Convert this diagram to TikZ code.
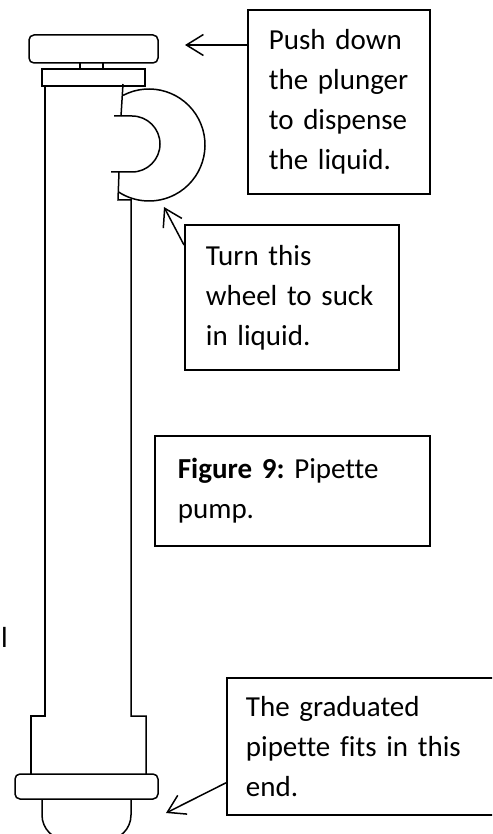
\documentclass[tikz,border=0pt]{standalone}
\usepackage{fontspec}
\setmainfont[Ligatures=NoCommon,WordSpace=0.8]{Carlito}
\usetikzlibrary{arrows.meta}
\usetikzlibrary{positioning}
\frenchspacing

\begin{document}
\begin{tikzpicture}[x=1pt,y=1pt,
  pumpline/.style={draw=black,line width=1.5pt},
  labelbox/.style={draw=black,line width=1.8pt,align=left,anchor=north west,
    font=\fontsize{29}{40}\selectfont,inner xsep=21pt,inner ysep=0pt},
  callout/.style={line width=1.5pt,-{Straight Barb[length=17pt,width=21pt,line width=1.5pt]}}]
\useasboundingbox (0,0) rectangle (492,-834);
\clip (0,0) rectangle (492,-834);

% plunger and collar
\draw[pumpline,rounded corners=5pt] (29,-35) rectangle (158,-63);
\draw[pumpline] (80,-63) -- (80,-69) (103,-63) -- (103,-69);
\draw[pumpline] (42,-69) rectangle (145,-86);

% barrel with the stepped lower end
\draw[pumpline] (45,-86) -- (45,-716) -- (31,-716) -- (31,-774);
\draw[pumpline] (119,-172) -- (118,-200) -- (131,-200) -- (131,-716) -- (146,-716) -- (146,-774);

% wheel
\draw[pumpline] (123,-84) -- (121,-116);
\draw[pumpline] (114,-116) -- (132,-116) arc[start angle=90,end angle=-90,radius=28] -- (111,-172);
\draw[pumpline] (149,-145) ++(117.5:56) arc[start angle=117.5,end angle=-123.4,radius=56];

% bottom ring and nozzle
\draw[pumpline,rounded corners=5pt] (15,-774) rectangle (158,-799);
\draw[pumpline] (42,-799) -- (42,-815) arc[start angle=180,end angle=270,radius=25]
  -- (106,-840) arc[start angle=270,end angle=360,radius=25] -- (131,-799);

% points the callouts aim at
\coordinate (cap) at (185,-45);
\coordinate (wheel) at (164,-207);
\coordinate (tip) at (166,-813);

\node[labelbox,text width=140pt,minimum height=184pt] (push) at (247,-9)
  {Push down\\the plunger\\to dispense\\the liquid.};
\node[labelbox,text width=172pt,minimum height=145pt] (turn) at (184,-224)
  {Turn this\\wheel to suck\\in liquid.};
\node[labelbox,inner xsep=23pt,text width=229pt,minimum height=110pt] (caption) at (154,-435)
  {\textbf{Figure 9:} Pipette\\pump.};
\node[labelbox,inner xsep=19pt,text width=236pt,minimum height=137pt] (fits) at (226,-677)
  {The graduated\\pipette fits in this\\end.};

\node[font=\fontsize{29}{40}\selectfont,inner sep=0pt,anchor=base west] (cut) at (1,-647) {l};

\draw[callout] (push.west |- cap) -- (cap);
\draw[callout] ([yshift=-21pt]turn.north west) -- (wheel);
\draw[callout] ([yshift=33pt]fits.south west) -- (tip);

\end{tikzpicture}
\end{document}
